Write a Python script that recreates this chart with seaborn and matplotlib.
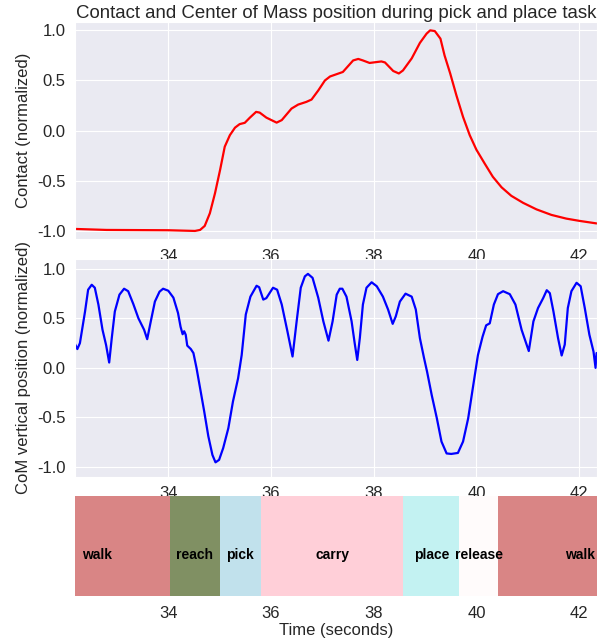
import numpy as np
import pandas as pd
import matplotlib
matplotlib.use("Agg")
import matplotlib.pyplot as plt
import matplotlib.transforms as mtransforms
import seaborn as sns

sns.set_style("darkgrid")
plt.rcParams['font.family'] = ['Liberation Sans', 'DejaVu Sans']
plt.rcParams['axes.unicode_minus'] = False

# contact signal (normalized)
contact_t = [32.185, 32.80, 34.0, 34.52, 34.62, 34.71, 34.81, 34.91, 35.01, 35.10,
             35.20, 35.30, 35.39, 35.49, 35.59, 35.71, 35.78, 35.91, 36.11, 36.21,
             36.40, 36.53, 36.69, 36.79, 36.92, 37.05, 37.15, 37.40, 37.60, 37.70,
             37.79, 37.92, 38.15, 38.22, 38.38, 38.49, 38.57, 38.74, 38.90, 39.03,
             39.10, 39.19, 39.30, 39.38, 39.49, 39.61, 39.74, 39.87, 40.0, 40.16,
             40.32, 40.49, 40.68, 40.91, 41.17, 41.46, 41.75, 42.01, 42.34]
contact_v = [-0.98, -0.99, -0.993, -1.0, -0.99, -0.95, -0.824, -0.625, -0.39, -0.16,
             -0.045, 0.03, 0.065, 0.078, 0.13, 0.187, 0.18, 0.13, 0.08, 0.105,
             0.22, 0.26, 0.287, 0.31, 0.40, 0.50, 0.54, 0.585, 0.70, 0.715,
             0.70, 0.675, 0.69, 0.68, 0.595, 0.57, 0.60, 0.72, 0.875, 0.967,
             1.0, 0.993, 0.917, 0.75, 0.57, 0.353, 0.137, -0.045, -0.19, -0.327,
             -0.46, -0.565, -0.65, -0.72, -0.785, -0.84, -0.877, -0.90, -0.925]

# CoM vertical position (normalized)
com_t = [32.185, 32.23, 32.28, 32.38, 32.44, 32.51, 32.57, 32.64, 32.72, 32.79,
         32.85, 32.90, 32.96, 33.05, 33.14, 33.22, 33.32, 33.42, 33.53, 33.59,
         33.66, 33.74, 33.83, 33.90, 34.0, 34.10, 34.19, 34.24, 34.28, 34.31,
         34.34, 34.37, 34.44, 34.49, 34.55, 34.62, 34.70, 34.78, 34.86, 34.92,
         34.99, 35.07, 35.17, 35.26, 35.36, 35.43, 35.51, 35.60, 35.72, 35.77,
         35.85, 35.91, 36.04, 36.12, 36.21, 36.32, 36.42, 36.50, 36.58, 36.66,
         36.72, 36.81, 36.92, 37.02, 37.12, 37.20, 37.28, 37.34, 37.39, 37.47,
         37.57, 37.63, 37.68, 37.73, 37.79, 37.86, 37.96, 38.06, 38.18, 38.28,
         38.37, 38.43, 38.51, 38.62, 38.74, 38.82, 38.90, 38.98, 39.04, 39.13,
         39.23, 39.32, 39.42, 39.51, 39.64, 39.74, 39.84, 39.93, 40.03, 40.12,
         40.19, 40.26, 40.34, 40.42, 40.52, 40.65, 40.76, 40.88, 41.02, 41.11,
         41.20, 41.30, 41.37, 41.43, 41.50, 41.59, 41.66, 41.72, 41.78, 41.85,
         41.95, 42.03, 42.11, 42.20, 42.28, 42.32, 42.34]
com_v = [0.24, 0.19, 0.25, 0.57, 0.79, 0.84, 0.81, 0.64, 0.385, 0.23,
         0.054, 0.30, 0.57, 0.74, 0.80, 0.775, 0.645, 0.50, 0.385, 0.29,
         0.47, 0.67, 0.77, 0.80, 0.78, 0.71, 0.555, 0.415, 0.34, 0.37,
         0.335, 0.225, 0.19, 0.15, 0.0, -0.205, -0.44, -0.69, -0.88, -0.955,
         -0.93, -0.81, -0.61, -0.34, -0.105, 0.13, 0.54, 0.72, 0.83, 0.815,
         0.69, 0.705, 0.81, 0.79, 0.64, 0.37, 0.115, 0.47, 0.81, 0.925,
         0.95, 0.91, 0.71, 0.47, 0.275, 0.47, 0.74, 0.80, 0.80, 0.72,
         0.47, 0.25, 0.08, 0.30, 0.64, 0.81, 0.865, 0.825, 0.72, 0.59,
         0.445, 0.52, 0.67, 0.75, 0.72, 0.59, 0.30, 0.10, -0.04, -0.275,
         -0.51, -0.745, -0.865, -0.87, -0.86, -0.745, -0.51, -0.205, 0.13, 0.315,
         0.43, 0.45, 0.64, 0.745, 0.775, 0.745, 0.64, 0.385, 0.17, 0.47,
         0.605, 0.705, 0.785, 0.755, 0.57, 0.30, 0.125, 0.235, 0.605, 0.775,
         0.86, 0.825, 0.605, 0.335, 0.165, 0.0, 0.15]

# task phases
phase_names = ['walk', 'reach', 'pick', 'carry', 'place', 'release', 'walk']
phase_start = [31.19, 34.03, 35.0, 35.80, 38.58, 39.67, 40.43]
phase_end = [34.03, 35.0, 35.80, 38.58, 39.67, 40.43, 43.6]
phase_colors = ['indianred', 'darkolivegreen', 'lightblue', 'pink',
                'paleturquoise', 'snow', 'indianred']

xlim = (32.185, 42.34)

contact = pd.DataFrame({'t': contact_t, 'v': contact_v})
com = pd.DataFrame({'t': com_t, 'v': com_v})

fig = plt.figure(figsize=(6.1, 6.42), dpi=100)
ax1 = fig.add_axes([0.123, 0.627, 0.855, 0.339])
ax2 = fig.add_axes([0.123, 0.2575, 0.855, 0.339])
ax3 = fig.add_axes([0.123, 0.0717, 0.855, 0.156])

sns.lineplot(data=contact, x='t', y='v', color='red', lw=1.6, ax=ax1)
ax1.set_xlim(xlim)
ax1.set_ylim(-1.085, 1.085)
ax1.set_xlabel('')
ax1.set_ylabel('Contact (normalized)', fontsize=12)
ax1.set_title('Contact and Center of Mass position during pick and place task',
              fontsize=13.4, pad=3)

sns.lineplot(data=com, x='t', y='v', color='blue', lw=1.6, ax=ax2)
ax2.set_xlim(xlim)
ax2.set_ylim(-1.1, 1.1)
ax2.set_xlabel('')
ax2.set_ylabel('CoM vertical position (normalized)', fontsize=12)

for ax in (ax1, ax2):
    ax.set_yticks([-1.0, -0.5, 0.0, 0.5, 1.0])
    ax.tick_params(labelsize=12)

# phase bar
ax3.set_facecolor('white')
ax3.grid(False)
trans = mtransforms.blended_transform_factory(ax3.transData, ax3.transAxes)
for name, s, e, c in zip(phase_names, phase_start, phase_end, phase_colors):
    ax3.axvspan(s, e, color=c, alpha=0.75, lw=0)
    ax3.text((s + e) / 2, 0.41, name, transform=trans, ha='center', va='center',
             fontsize=10, fontweight='bold', color='black', clip_on=False)
ax3.set_xlim(xlim)
ax3.set_ylim(0, 1)
ax3.set_yticks([])
ax3.tick_params(labelsize=12)
for sp in ax3.spines.values():
    sp.set_visible(False)
ax3.set_xlabel('Time (seconds)', fontsize=12, labelpad=2)

fig.savefig('out.png', dpi=100)
